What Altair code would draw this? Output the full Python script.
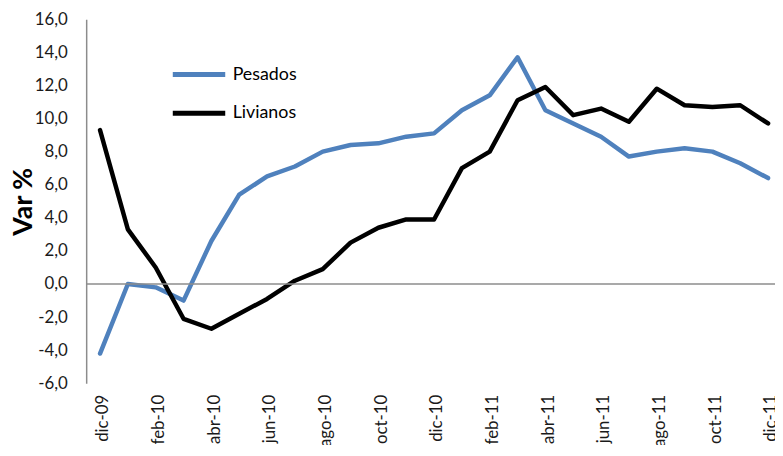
import altair as alt
import pandas as pd

months = ["dic-09", "ene-10", "feb-10", "mar-10", "abr-10", "may-10", "jun-10",
          "jul-10", "ago-10", "sep-10", "oct-10", "nov-10", "dic-10", "ene-11",
          "feb-11", "mar-11", "abr-11", "may-11", "jun-11", "jul-11", "ago-11",
          "sep-11", "oct-11", "nov-11", "dic-11"]
pesados = [-4.2, 0.0, -0.2, -1.0, 2.6, 5.4, 6.5, 7.1, 8.0, 8.4, 8.5, 8.9, 9.1,
           10.5, 11.4, 13.7, 10.5, 9.7, 8.9, 7.7, 8.0, 8.2, 8.0, 7.3, 6.4]
livianos = [9.3, 3.3, 1.0, -2.1, -2.7, -1.8, -0.9, 0.2, 0.9, 2.5, 3.4, 3.9, 3.9,
            7.0, 8.0, 11.1, 11.9, 10.2, 10.6, 9.8, 11.8, 10.8, 10.7, 10.8, 9.7]
series = ["Pesados", "Livianos"]
colors = ["#4F81BD", "#000000"]
tick_months = months[::2]
y_ticks = list(range(-6, 17, 2))

df = pd.DataFrame({
    "mes": months * 2,
    "serie": [series[0]] * len(months) + [series[1]] * len(months),
    "valor": pesados + livianos,
})

FONT = "Lato"

x = alt.X(
    "mes:O", sort=months,
    scale=alt.Scale(type="point", range=[14, 689], padding=0),
    axis=alt.Axis(values=tick_months, labelAngle=270, domain=False, ticks=False,
                  tickSize=0, labelPadding=11, labelFontSize=17, labelFont=FONT,
                  labelColor="#1a1a1a", labelOverlap=False, labelOffset=3, title=None),
)
y_axis = alt.Axis(values=y_ticks, grid=False, ticks=False, tickSize=0, labelOverlap=False,
                  labelExpr="replace(replace(format(datum.value, '.1f'), '.', ','), '\u2212', '-')",
                  labelFontSize=17, labelFont=FONT, labelColor="#1a1a1a", labelPadding=19,
                  domainColor="#8c8c8c", domainWidth=1.5,
                  title="Var %", titleFont=FONT, titleFontSize=27, titleFontWeight="bold",
                  titleColor="#000000", titleX=-49, titleY=184)
y = alt.Y("valor:Q", scale=alt.Scale(domain=[-6, 16], nice=False, zero=False), axis=y_axis)

lines = alt.Chart(df).mark_line(strokeWidth=4.5, strokeCap="round", strokeJoin="round").encode(
    x=x, y=y,
    color=alt.Color("serie:N", sort=series,
                    scale=alt.Scale(domain=series, range=colors),
                    legend=alt.Legend(orient="none", legendX=85, legendY=27, title=None,
                                      symbolType="stroke", symbolStrokeWidth=5,
                                      symbolSize=2809, labelFontSize=18, labelFont=FONT,
                                      labelColor="#000000", labelOffset=5, rowPadding=0)),
    detail="serie:N",
)

zero = alt.Chart(pd.DataFrame({"valor": [0]})).mark_rule(color="#8c8c8c", strokeWidth=1.5).encode(
    y=y,
)

chart = alt.layer(lines, zero).properties(
    width=696, height=368,
    padding={"left": 79, "top": 9, "right": 0, "bottom": 60},
    autosize=alt.AutoSizeParams(type="none"),
).configure_view(stroke=None).configure_axis(labelOverlap=False)

chart.save("out.html", embed_options={"renderer": "svg", "actions": False})
